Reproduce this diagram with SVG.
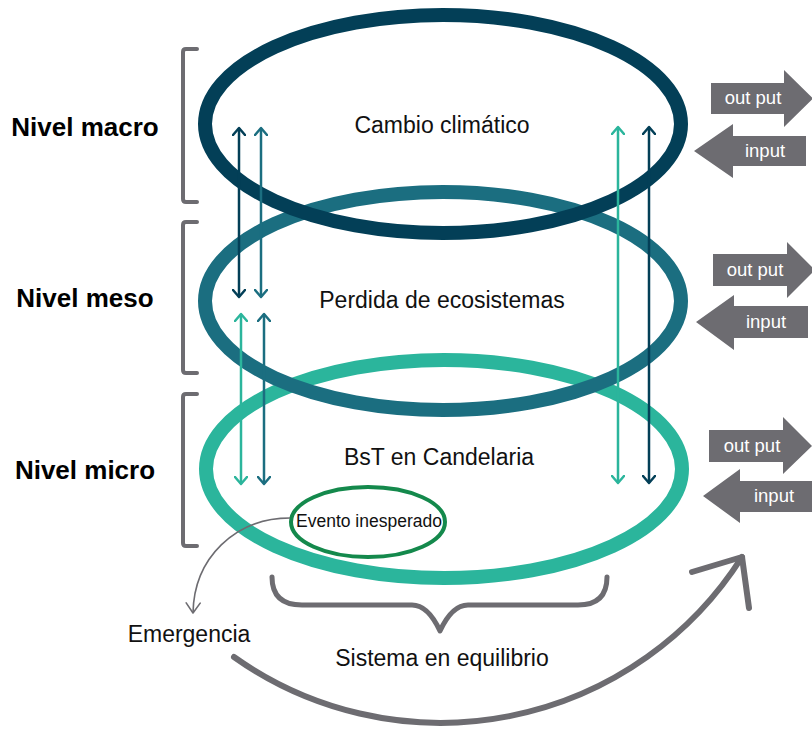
<svg xmlns="http://www.w3.org/2000/svg" width="812" height="729" viewBox="0 0 812 729">
  <style>
    text { font-family: "Liberation Sans", Arial, sans-serif; }
    .lvl { font-size: 26px; font-weight: bold; fill: #000; text-anchor: middle; }
    .lbl { font-size: 23px; fill: #111; text-anchor: middle; }
    .io-text { font-size: 18.5px; fill: #fff; text-anchor: middle; }
    .io { fill: #6d6c71; }
    .ring { fill: none; stroke-width: 14; }
    .bracket { fill: none; stroke: #6d6c71; stroke-width: 4; stroke-linecap: round; stroke-linejoin: round; }
    .vline { stroke-width: 2.5; fill: none; }
  </style>
  <defs>
    <marker id="ah-navy" markerUnits="userSpaceOnUse" viewBox="0 0 10 14" refX="8" refY="7" markerWidth="10" markerHeight="14" orient="auto-start-reverse">
      <path d="M1 1 L8 7 L1 13" fill="none" stroke="#033f57" stroke-width="2.5" stroke-linecap="round" stroke-linejoin="round"/>
    </marker>
    <marker id="ah-dteal" markerUnits="userSpaceOnUse" viewBox="0 0 10 14" refX="8" refY="7" markerWidth="10" markerHeight="14" orient="auto-start-reverse">
      <path d="M1 1 L8 7 L1 13" fill="none" stroke="#1b6e80" stroke-width="2.5" stroke-linecap="round" stroke-linejoin="round"/>
    </marker>
    <marker id="ah-teal" markerUnits="userSpaceOnUse" viewBox="0 0 10 14" refX="8" refY="7" markerWidth="10" markerHeight="14" orient="auto-start-reverse">
      <path d="M1 1 L8 7 L1 13" fill="none" stroke="#2bb59c" stroke-width="2.5" stroke-linecap="round" stroke-linejoin="round"/>
    </marker>
    <marker id="ah-gray" markerUnits="userSpaceOnUse" viewBox="0 0 24 16" refX="20" refY="8" markerWidth="24" markerHeight="16" orient="auto">
      <path d="M10 1 L20 8 L10 15" fill="none" stroke="#6d6c71" stroke-width="1.6" stroke-linecap="round" stroke-linejoin="round"/>
    </marker>
  </defs>

  <!-- rings (bottom drawn first) -->
  <g id="ring-micro">
    <ellipse class="ring" cx="444" cy="469" rx="238" ry="109" stroke="#2bb59c"/>
    <text class="lbl" x="439" y="465">BsT en Candelaria</text>
  </g>
  <g id="ring-meso">
    <ellipse class="ring" cx="443" cy="301" rx="238" ry="109" stroke="#1b6e80"/>
    <text class="lbl" x="442" y="308">Perdida de ecosistemas</text>
  </g>
  <g id="ring-macro">
    <ellipse class="ring" cx="443" cy="124" rx="238" ry="109" stroke="#033f57"/>
    <text class="lbl" x="442" y="133">Cambio climático</text>
  </g>

  <!-- level labels -->
  <g id="level-macro">
    <path class="bracket" d="M197 49 L186 49 Q183 49 183 52 L183 199 Q183 202 186 202 L197 202"/>
    <text class="lvl" x="85" y="136">Nivel macro</text>
  </g>
  <g id="level-meso">
    <path class="bracket" d="M197 222 L186 222 Q183 222 183 225 L183 370 Q183 373 186 373 L197 373"/>
    <text class="lvl" x="85" y="307">Nivel meso</text>
  </g>
  <g id="level-micro">
    <path class="bracket" d="M197 394 L186 394 Q183 394 183 397 L183 543 Q183 546 186 546 L197 546"/>
    <text class="lvl" x="85" y="479">Nivel micro</text>
  </g>

  <!-- io arrows -->
  <g id="io-macro">
    <polygon class="io" points="711,83 784,83 784,70 813,98.5 784,127 784,114 711,114"/>
    <text class="io-text" x="753" y="104">out put</text>
    <polygon class="io" points="694,151 733,124 733,136 806,136 806,166 733,166 733,178"/>
    <text class="io-text" x="765" y="157">input</text>
  </g>
  <g id="io-meso">
    <polygon class="io" points="713,254 787,254 787,242 815,270 787,298 787,286 713,286"/>
    <text class="io-text" x="755" y="276">out put</text>
    <polygon class="io" points="696,322 734,295 734,306 808,306 808,338 734,338 734,350"/>
    <text class="io-text" x="766" y="328">input</text>
  </g>
  <g id="io-micro">
    <polygon class="io" points="709,430 783,430 783,417 812,446 783,474 783,462 709,462"/>
    <text class="io-text" x="752" y="452">out put</text>
    <polygon class="io" points="703,496 740,469 740,481 815,481 815,512 740,512 740,523"/>
    <text class="io-text" x="774" y="502">input</text>
  </g>

  <!-- event, emergence, equilibrium -->
  <g id="evento">
    <ellipse cx="368" cy="522" rx="77" ry="35" fill="#fff" stroke="#14894c" stroke-width="4"/>
    <text x="369" y="527" font-size="17.5" fill="#111" text-anchor="middle">Evento inesperado</text>
  </g>
  <g id="emergencia">
    <text class="lbl" x="189" y="642">Emergencia</text>
  </g>
  <g id="equilibrio">
    <path d="M272 577 Q272 605 302 605 L412 605 Q428 605 440 631 Q452 605 468 605 L578 605 Q607 605 607 577" fill="none" stroke="#6d6c71" stroke-width="5" stroke-linecap="round" stroke-linejoin="round"/>
    <text class="lbl" x="442" y="666">Sistema en equilibrio</text>
  </g>

  <!-- connectors -->
  <g id="connectors">
    <line class="vline" x1="239" y1="128" x2="239" y2="297" stroke="#033f57" marker-start="url(#ah-navy)" marker-end="url(#ah-navy)"/>
    <line class="vline" x1="261" y1="128" x2="261" y2="297" stroke="#1b6e80" marker-start="url(#ah-dteal)" marker-end="url(#ah-dteal)"/>
    <line class="vline" x1="241" y1="314" x2="241" y2="484" stroke="#2bb59c" marker-start="url(#ah-teal)" marker-end="url(#ah-teal)"/>
    <line class="vline" x1="264" y1="314" x2="264" y2="484" stroke="#1b6e80" marker-start="url(#ah-dteal)" marker-end="url(#ah-dteal)"/>
    <line class="vline" x1="618" y1="127" x2="618" y2="483" stroke="#2bb59c" marker-start="url(#ah-teal)" marker-end="url(#ah-teal)"/>
    <line class="vline" x1="649" y1="127" x2="649" y2="483" stroke="#033f57" marker-start="url(#ah-navy)" marker-end="url(#ah-navy)"/>
    <path d="M290 518 C235 518 194 558 193 613" fill="none" stroke="#6d6c71" stroke-width="1.6" marker-end="url(#ah-gray)"/>
    <path d="M234 657 A357 357 0 0 0 742 557" fill="none" stroke="#6d6c71" stroke-width="6" stroke-linecap="round"/>
    <polyline points="692,572 742,557 749,608" fill="none" stroke="#6d6c71" stroke-width="6" stroke-linecap="round" stroke-linejoin="round"/>
  </g>
</svg>
